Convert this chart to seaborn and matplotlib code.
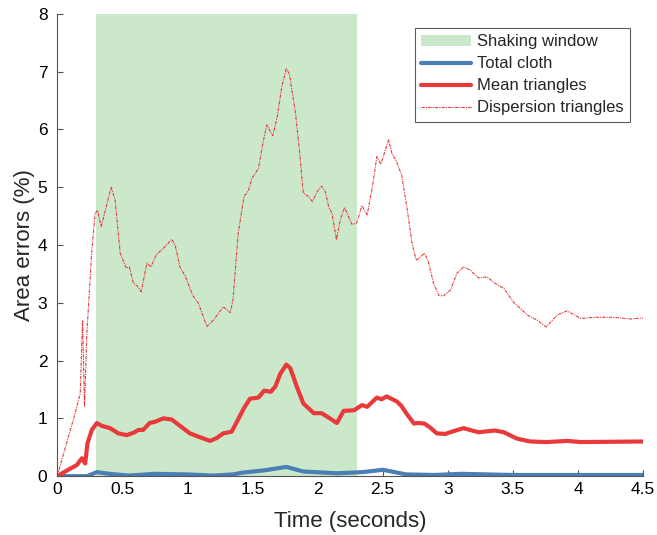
import numpy as np
import pandas as pd
import matplotlib
matplotlib.use("Agg")
import seaborn as sns
import matplotlib.pyplot as plt

# shaking window (seconds)
shake_start, shake_end = 0.3, 2.3

# Dispersion triangles (%)
disp_t = [0.0, 0.138, 0.177, 0.195, 0.21, 0.228, 0.266, 0.292, 0.31, 0.338, 0.415, 0.445,
          0.484, 0.53, 0.555, 0.585, 0.615, 0.645, 0.69, 0.72, 0.76, 0.815, 0.88, 0.906,
          0.945, 0.98, 1.04, 1.085, 1.15, 1.2, 1.275, 1.33, 1.35, 1.39, 1.435, 1.47, 1.495,
          1.545, 1.585, 1.61, 1.655, 1.69, 1.725, 1.76, 1.785, 1.83, 1.865, 1.89, 1.93,
          1.96, 1.995, 2.03, 2.06, 2.085, 2.11, 2.145, 2.173, 2.207, 2.237, 2.263, 2.3,
          2.34, 2.38, 2.42, 2.455, 2.485, 2.545, 2.57, 2.61, 2.645, 2.685, 2.725, 2.757,
          2.79, 2.82, 2.85, 2.89, 2.93, 2.965, 3.02, 3.07, 3.12, 3.17, 3.235, 3.3, 3.36,
          3.43, 3.505, 3.61, 3.685, 3.755, 3.84, 3.915, 4.02, 4.145, 4.27, 4.4, 4.5]
disp_v = [0.0, 1.09, 1.43, 2.7, 1.2, 2.47, 3.9, 4.55, 4.6, 4.32, 5.0, 4.78,
          3.86, 3.6, 3.62, 3.34, 3.29, 3.19, 3.69, 3.62, 3.83, 3.94, 4.1, 4.0,
          3.6, 3.48, 3.13, 2.99, 2.59, 2.7, 2.93, 2.83, 3.05, 4.2, 4.84, 4.95, 5.15,
          5.32, 5.82, 6.08, 5.89, 6.22, 6.74, 7.06, 6.94, 6.29, 5.53, 4.9, 4.84,
          4.75, 4.92, 5.02, 4.92, 4.66, 4.55, 4.09, 4.43, 4.65, 4.49, 4.36, 4.38,
          4.68, 4.52, 5.0, 5.53, 5.4, 5.82, 5.59, 5.42, 5.21, 4.66, 4.03, 3.74,
          3.79, 3.86, 3.71, 3.34, 3.13, 3.12, 3.22, 3.51, 3.62, 3.57, 3.43, 3.45, 3.34,
          3.25, 3.01, 2.79, 2.7, 2.58, 2.79, 2.86, 2.73, 2.75, 2.75, 2.72, 2.74]

# Mean triangles (%)
mean_t = [0.0, 0.1, 0.15, 0.19, 0.215, 0.233, 0.266, 0.305, 0.343, 0.407, 0.47, 0.535,
          0.585, 0.625, 0.66, 0.71, 0.75, 0.815, 0.88, 0.955, 1.02, 1.1, 1.175, 1.225,
          1.275, 1.34, 1.38, 1.43, 1.48, 1.545, 1.59, 1.64, 1.675, 1.715, 1.76, 1.79,
          1.84, 1.89, 1.97, 2.03, 2.08, 2.148, 2.2, 2.28, 2.34, 2.38, 2.455, 2.49, 2.53,
          2.61, 2.645, 2.68, 2.74, 2.77, 2.82, 2.865, 2.915, 2.98, 3.045, 3.12, 3.235,
          3.36, 3.43, 3.53, 3.63, 3.76, 3.915, 4.02, 4.5]
mean_v = [0.0, 0.13, 0.19, 0.31, 0.22, 0.57, 0.8, 0.92, 0.87, 0.83, 0.74, 0.71,
          0.75, 0.8, 0.8, 0.92, 0.94, 1.0, 0.98, 0.85, 0.74, 0.67, 0.61, 0.66,
          0.74, 0.77, 0.94, 1.16, 1.34, 1.36, 1.48, 1.46, 1.55, 1.78, 1.93, 1.87,
          1.55, 1.26, 1.09, 1.09, 1.02, 0.92, 1.13, 1.14, 1.23, 1.2, 1.36, 1.33, 1.38,
          1.29, 1.21, 1.09, 0.91, 0.92, 0.91, 0.84, 0.74, 0.73, 0.78, 0.83, 0.76,
          0.79, 0.76, 0.65, 0.6, 0.59, 0.61, 0.59, 0.6]

# Total cloth (%)
cloth_t = [0.0, 0.23, 0.305, 0.4, 0.55, 0.75, 1.0, 1.2, 1.35, 1.42, 1.59, 1.76,
           1.89, 2.15, 2.35, 2.5, 2.68, 2.9, 3.1, 3.5, 4.0, 4.5]
cloth_v = [0.0, 0.0, 0.07, 0.04, 0.01, 0.04, 0.03, 0.01, 0.03, 0.06, 0.1, 0.16,
           0.08, 0.05, 0.07, 0.11, 0.03, 0.02, 0.04, 0.02, 0.02, 0.02]

sns.set_theme(style="ticks")
plt.rcParams["font.family"] = ["Liberation Sans", "DejaVu Sans"]

fig = plt.figure(figsize=(6.57, 5.35), dpi=100)
ax = fig.add_axes([0.087, 0.11, 0.892, 0.864])

ax.axvspan(shake_start, shake_end, color="#cce8cb", lw=0, label="Shaking window")
sns.lineplot(x=cloth_t, y=cloth_v, ax=ax, color="#4a7fb5", lw=3, label="Total cloth")
sns.lineplot(x=mean_t, y=mean_v, ax=ax, color="#e8393b", lw=3, label="Mean triangles")
sns.lineplot(x=disp_t, y=disp_v, ax=ax, color="#e8393b", lw=0.8,
             linestyle=(0, (3, 1, 1, 1)), label="Dispersion triangles")

ax.set_xlim(0, 4.5)
ax.set_ylim(0, 8)
ax.set_xticks(np.arange(0, 4.51, 0.5))
ax.set_xticklabels(["0", "0.5", "1", "1.5", "2", "2.5", "3", "3.5", "4", "4.5"])
ax.set_yticks(range(0, 9))
ax.tick_params(direction="in", labelsize=12.5, length=4, width=0.8, colors="#555555",
               labelcolor="black")
ax.tick_params(axis="x", pad=4)
ax.tick_params(axis="y", pad=7)
for s in ["top", "right"]:
    ax.spines[s].set_visible(False)
for s in ["left", "bottom"]:
    ax.spines[s].set_color("#555555")
    ax.spines[s].set_linewidth(0.8)

ax.set_xlabel("Time (seconds)", fontsize=16, labelpad=10)
ax.set_ylabel("Area errors (%)", fontsize=16, labelpad=2)

h, l = ax.get_legend_handles_labels()
order = [l.index(n) for n in ["Shaking window", "Total cloth", "Mean triangles", "Dispersion triangles"]]
leg = ax.legend([h[i] for i in order], [l[i] for i in order], loc="upper right",
                bbox_to_anchor=(0.978, 0.97), fontsize=12, frameon=True, fancybox=False,
                handlelength=3.0, handletextpad=0.35, borderpad=0.4, labelspacing=0.42,
                borderaxespad=0)
leg.get_frame().set_edgecolor("#333333")
leg.get_frame().set_linewidth(0.8)

fig.savefig("out.png", dpi=100)
